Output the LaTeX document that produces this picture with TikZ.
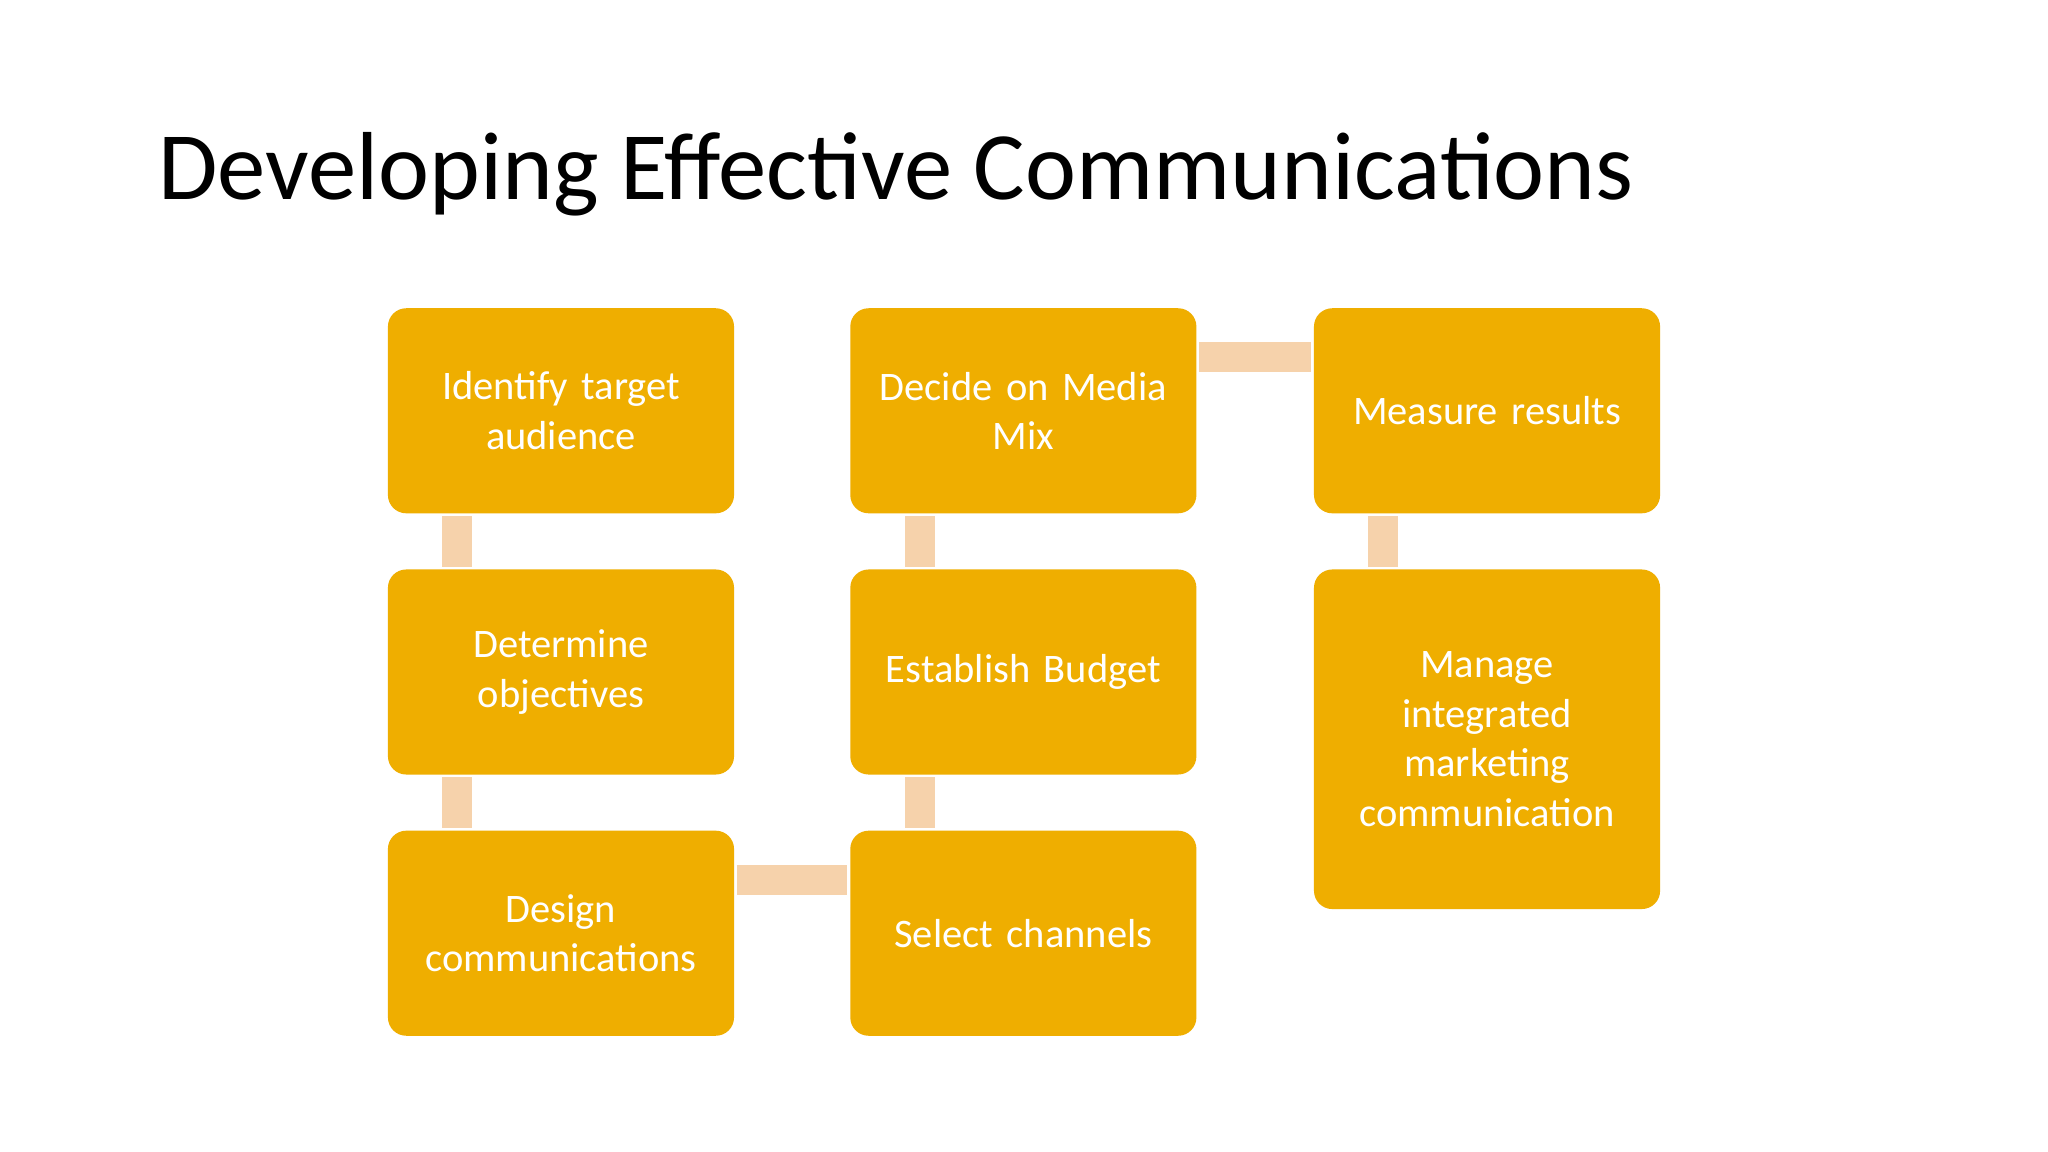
\documentclass[tikz,border=0pt]{standalone}
\usepackage{fontspec}
\setmainfont{Carlito}
\definecolor{boxc}{HTML}{EFAE00}
\definecolor{barc}{HTML}{F6D2AB}
\begin{document}
\begin{tikzpicture}[x=1pt,y=-1pt,
  box/.style={fill=boxc,rounded corners=14pt,minimum width=265pt,minimum height=157pt,align=center,text=white,font=\fontsize{31}{38}\selectfont,text width=250pt,inner sep=0pt},
  bar/.style={draw=barc,line width=23pt}]
\useasboundingbox (0,0) rectangle (1568,882);
\fill[white] (0,0) rectangle (1568,882);
\node[anchor=base west,font=\fontsize{74}{80}\selectfont,inner sep=0pt] (title) at (121,153) {Developing Effective Communications};
\node[box] (a) at (429.5,314.5) {Identify target\\audience};
\node[box] (b) at (429.5,514.5) {Determine\\objectives};
\node[box] (c) at (429.5,714.5) {Design\\communications};
\node[box] (d) at (783.5,714.5) {Select channels};
\node[box] (e) at (783.5,514.5) {Establish Budget};
\node[box] (f) at (783.5,314.5) {Decide on Media\\Mix};
\node[box] (g) at (1138.5,314.5) {Measure results};
\node[box,minimum height=260pt] (h) at (1138.5,566) {Manage\\integrated\\marketing\\communication};
\draw[bar] ([xshift=-79.5pt,yshift=-2pt]a.south) -- ([xshift=-79.5pt,yshift=2pt]b.north);
\draw[bar] ([xshift=-79.5pt,yshift=-2pt]b.south) -- ([xshift=-79.5pt,yshift=2pt]c.north);
\draw[bar] ([yshift=41pt,xshift=2pt]c.east) -- ([yshift=41pt,xshift=-2pt]d.west);
\draw[bar] ([xshift=-79.5pt,yshift=2pt]d.north) -- ([xshift=-79.5pt,yshift=-2pt]e.south);
\draw[bar] ([xshift=-79.5pt,yshift=2pt]e.north) -- ([xshift=-79.5pt,yshift=-2pt]f.south);
\draw[bar] ([yshift=41pt,xshift=2pt]f.east) -- ([yshift=41pt,xshift=-2pt]g.west);
\draw[bar] ([xshift=-79.5pt,yshift=-2pt]g.south) -- ([xshift=-79.5pt,yshift=2pt]h.north);
\end{tikzpicture}
\end{document}
